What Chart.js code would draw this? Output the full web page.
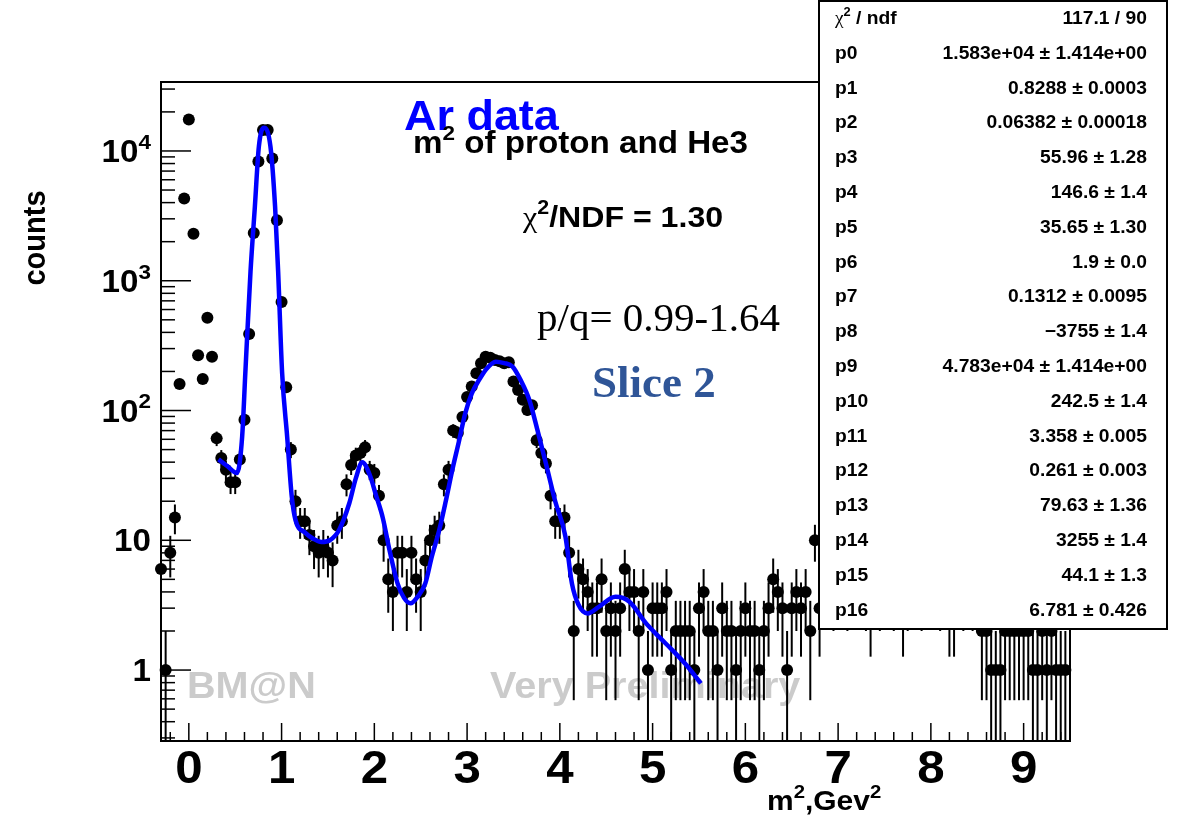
<!DOCTYPE html>
<html>
<head>
<meta charset="utf-8">
<script src="https://cdn.jsdelivr.net/npm/chart.js@4.4.0/dist/chart.umd.min.js"></script>
<style>
  html, body { margin: 0; padding: 0; background: #fff; }
  #wrap { width: 1178px; height: 815px; }
</style>
</head>
<body>
<div id="wrap"><canvas id="c" width="1178" height="815"></canvas></div>
<script>
// histogram: m^2 bins of 0.05 GeV^2, first bin centred at -0.30
const binStart = -0.30;
const binWidth = 0.05;
const counts = [
  6, 1, 8, 15, 160, 4300, 17500, 2300, 267, 175, 519, 260, 61, 43, 35, 28, 28, 42, 85, 389,
  2330, 8300, 14500, 14500, 8760, 2920, 686, 151, 50, 20, 14, 14, 11, 9, 8, 9, 8, 7, 13, 14,
  27, 38, 45, 47, 52, 35, 33, 22, 10, 5, 4, 8, 8, 4, 8, 5, 4, 7, 10, 12,
  13, 27, 35, 70, 67, 89, 127, 153, 194, 231, 260, 255, 245, 240, 231, 235, 167, 144, 121, 101,
  110, 59, 47, 39, 22, 14, 14, 15, 8, 2, 6, 5, 4, 3, 3, 5, 2, 3, 2, 3,
  6, 4, 4, 2, 4, 1, 3, 3, 3, 4, 1, 2, 2, 2, 2, 1, 3, 4, 2, 2,
  1, 3, 2, 2, 1, 2, 3, 2, 2, 1, 2, 3, 5, 4, 3, 1, 3, 4, 3, 4,
  2, 10, 3, 0, 5, 4, 0, 6, 4, 0, 5, 0, 4, 3, 0, 4, 5, 0, 4, 0,
  3, 4, 0, 5, 4, 0, 6, 0, 4, 5, 3, 3, 0, 4, 6, 4, 0, 2, 2, 1,
  1, 1, 2, 2, 2, 2, 2, 2, 1, 1, 2, 1, 2, 1, 1, 1
];

// fit curve
const fitX = [0.32, 0.42, 0.52, 0.575, 0.61, 0.665, 0.712, 0.755, 0.81, 0.88, 0.93, 0.963, 1.006, 1.06, 1.11, 1.15,
  1.25, 1.35, 1.43, 1.52, 1.62, 1.73, 1.80, 1.87, 1.95, 2.02, 2.09, 2.17, 2.25, 2.32, 2.39, 2.47, 2.55, 2.62, 2.70,
  2.77, 2.84, 2.91, 2.98, 3.05, 3.13, 3.21, 3.31, 3.40, 3.49, 3.58, 3.67, 3.76, 3.85, 3.95, 4.06, 4.13, 4.20, 4.30,
  4.42, 4.60, 4.75, 4.93, 5.07, 5.21, 5.37, 5.52];
const fitY = [42, 37, 33, 63, 200, 1175, 3720, 10800, 15100, 10800, 3720, 1175, 194, 63, 21.7, 14.3,
  11.5, 10.2, 9.7, 10, 12, 19.3, 30, 40, 32, 22, 15, 8, 4.66, 3.6, 3.27, 3.7, 4.66, 7.5, 12,
  20, 34.7, 57, 95, 135, 172, 210, 238, 232, 218, 170, 121, 70, 39, 20, 10.7, 4.66, 3.2, 2.73,
  3.07, 3.67, 3.36, 2.29, 1.8, 1.43, 1.08, 0.79];

// axes
const xMin = -0.3, xMax = 9.5;
const yMin = 0.284, yMax = 34000;
const xLabels = [0, 1, 2, 3, 4, 5, 6, 7, 8, 9];
const yDecades = [0, 1, 2, 3, 4];

// fit statistics box
const statNames = ['\u03c7\u00b2 / ndf', 'p0', 'p1', 'p2', 'p3', 'p4', 'p5', 'p6', 'p7', 'p8', 'p9', 'p10', 'p11', 'p12', 'p13', 'p14', 'p15', 'p16'];
const statVals = ['117.1 / 90', '1.583e+04', '0.8288', '0.06382', '55.96', '146.6', '35.65', '1.9', '0.1312', '\u22123755',
  '4.783e+04', '242.5', '3.358', '0.261', '79.63', '3255', '44.1', '6.781'];
const statErrs = [null, '1.414e+00', '0.0003', '0.00018', '1.28', '1.4', '1.30', '0.0', '0.0095', '1.4',
  '1.414e+00', '1.4', '0.005', '0.003', '1.36', '1.4', '1.3', '0.426'];

const SANS = '"Liberation Sans", Arial, Helvetica, sans-serif';
const SERIF = '"Liberation Serif", "Times New Roman", serif';
const SX = 1.07;

function rich(ctx, segs, x, y, size, opt = {}) {
  const sx = opt.sx || SX;
  const fontOf = s => `${s.normal ? '' : 'bold '}${Math.round(size * (s.sup ? 0.68 : 1))}px ${s.serif ? SERIF : SANS}`;
  ctx.save();
  ctx.fillStyle = opt.color || '#000';
  ctx.textBaseline = 'alphabetic';
  ctx.textAlign = 'left';
  let w = 0;
  segs.forEach(s => { ctx.font = fontOf(s); w += ctx.measureText(s.t).width; });
  ctx.translate(x, y);
  ctx.scale(sx, 1);
  let cx = opt.align === 'right' ? -w : opt.align === 'center' ? -w / 2 : 0;
  segs.forEach(s => {
    ctx.font = fontOf(s);
    ctx.fillText(s.t, cx, s.sup ? -size * 0.42 : 0);
    cx += ctx.measureText(s.t).width;
  });
  ctx.restore();
}

const rootLook = {
  id: 'rootLook',
  beforeDatasetsDraw(chart) {
    const { ctx, chartArea: a, scales: { x, y } } = chart;
    // watermarks
    rich(ctx, [{ t: 'BM@N' }], 187, 698, 37, { color: '#cbcbcb' });
    rich(ctx, [{ t: 'Very Preliminary' }], 490, 698, 37, { color: '#cbcbcb' });
    // error bars
    ctx.save();
    ctx.beginPath(); ctx.rect(a.left, a.top, a.right - a.left, a.bottom - a.top); ctx.clip();
    ctx.strokeStyle = '#000'; ctx.lineWidth = 2;
    counts.forEach((n, i) => {
      if (!n) return;
      const e = Math.sqrt(n);
      const px = x.getPixelForValue(binStart + i * binWidth);
      const lo = n - e > 0 ? y.getPixelForValue(n - e) : a.bottom;
      const hi = y.getPixelForValue(n + e);
      ctx.beginPath(); ctx.moveTo(px, lo); ctx.lineTo(px, hi); ctx.stroke();
    });
    ctx.restore();
  },
  afterDatasetsDraw(chart) {
    const { ctx, chartArea: a, scales: { x, y } } = chart;
    ctx.save();
    ctx.strokeStyle = '#000';
    ctx.lineWidth = 2;
    ctx.strokeRect(a.left, a.top, a.right - a.left, a.bottom - a.top);

    // y ticks (log)
    ctx.lineWidth = 1.5;
    for (let d = -1; d <= 4; d++) {
      for (let m = 1; m <= 9; m++) {
        const v = m * Math.pow(10, d);
        if (v < yMin || v > yMax) continue;
        const py = y.getPixelForValue(v);
        ctx.beginPath(); ctx.moveTo(a.left, py); ctx.lineTo(a.left + (m === 1 ? 30 : 14), py); ctx.stroke();
      }
    }
    // x ticks
    for (let k = -1; k <= 47; k++) {
      const v = k * 0.2;
      if (v < xMin || v > xMax) continue;
      const px = x.getPixelForValue(v);
      const len = k % 5 === 0 ? 18 : 9;
      ctx.beginPath(); ctx.moveTo(px, a.bottom); ctx.lineTo(px, a.bottom - len); ctx.stroke();
    }
    ctx.restore();

    // tick labels
    xLabels.forEach(v => {
      rich(ctx, [{ t: String(v) }], x.getPixelForValue(v), 783, 46, { align: 'center' });
    });
    yDecades.forEach(d => {
      const py = y.getPixelForValue(Math.pow(10, d)) + 11;
      const segs = d === 0 ? [{ t: '1' }] : d === 1 ? [{ t: '10' }] : [{ t: '10' }, { t: String(d), sup: true }];
      rich(ctx, segs, 151, py, 31, { align: 'right' });
    });

    // axis titles
    ctx.save();
    ctx.translate(45, 238);
    ctx.rotate(-Math.PI / 2);
    ctx.scale(1, SX);
    ctx.font = `bold 29px ${SANS}`;
    ctx.fillStyle = '#000';
    ctx.textAlign = 'center';
    ctx.textBaseline = 'alphabetic';
    ctx.fillText('counts', 0, 0);
    ctx.restore();
    rich(ctx, [{ t: 'm' }, { t: '2', sup: true }, { t: ',Gev' }, { t: '2', sup: true }], 767, 810, 28);

    // labels inside the pad
    rich(ctx, [{ t: 'Ar data' }], 404, 130, 42, { color: '#0000ff' });
    rich(ctx, [{ t: 'm' }, { t: '2', sup: true }, { t: ' of proton and He3' }], 413, 153, 31);
    rich(ctx, [{ t: '\u03c7', serif: true, normal: true }, { t: '2', sup: true }, { t: '/NDF = 1.30' }], 523, 227, 30);
    rich(ctx, [{ t: 'p/q= 0.99-1.64', serif: true, normal: true }], 537, 331, 41, { sx: 1.0 });
    rich(ctx, [{ t: 'Slice 2', serif: true }], 592, 397, 45, { color: '#2f5597', sx: 1.0 });

    // stats box
    ctx.save();
    ctx.fillStyle = '#fff';
    ctx.fillRect(818, 0, 350, 629);
    ctx.strokeStyle = '#000';
    ctx.lineWidth = 2;
    ctx.strokeRect(819, 1, 348, 628);
    ctx.restore();
    statNames.forEach((name, i) => {
      const by = 24 + i * 34.8;
      const nameSegs = i === 0
        ? [{ t: '\u03c7', serif: true, normal: true }, { t: '2', sup: true }, { t: ' / ndf' }]
        : [{ t: name }];
      rich(ctx, nameSegs, 835, by, 18);
      const val = statErrs[i] ? `${statVals[i]} \u00b1 ${statErrs[i]}` : statVals[i];
      rich(ctx, [{ t: val }], 1147, by, 18, { align: 'right' });
    });
  }
};

const points = [];
counts.forEach((n, i) => { if (n > 0) points.push({ x: binStart + i * binWidth, y: n }); });
const fitPoints = fitX.map((v, i) => ({ x: v, y: fitY[i] }));

new Chart(document.getElementById('c').getContext('2d'), {
  type: 'scatter',
  data: {
    datasets: [
      {
        type: 'line', data: fitPoints, borderColor: '#0000ff', borderWidth: 4.5,
        pointRadius: 0, cubicInterpolationMode: 'monotone', fill: false
      },
      {
        data: points, backgroundColor: '#000', borderWidth: 0,
        pointRadius: 6, pointHoverRadius: 6, clip: 8
      }
    ]
  },
  options: {
    responsive: false,
    animation: false,
    events: [],
    layout: { padding: { left: 161, right: 108, top: 82, bottom: 74 } },
    plugins: { legend: { display: false }, tooltip: { enabled: false } },
    scales: {
      x: { type: 'linear', min: xMin, max: xMax, display: false },
      y: { type: 'logarithmic', min: yMin, max: yMax, display: false }
    }
  },
  plugins: [rootLook]
});
</script>
</body>
</html>
